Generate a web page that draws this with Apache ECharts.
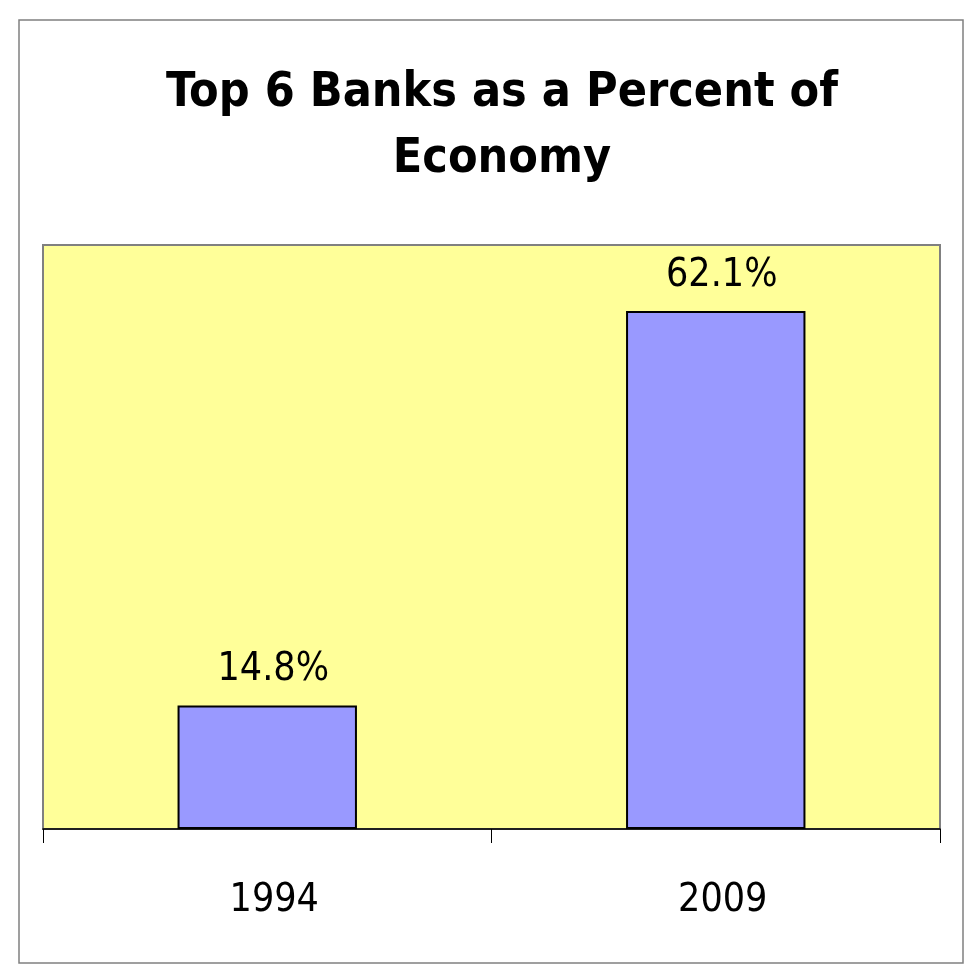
<!DOCTYPE html>
<html>
<head>
<meta charset="utf-8">
<script src="https://cdn.jsdelivr.net/npm/echarts@6/dist/echarts.min.js"></script>
<style>html,body{margin:0;padding:0;background:#fff}#c{width:980px;height:980px}</style>
</head>
<body>
<div id="c"></div>
<script>
const titleText = 'Top 6 Banks as a Percent of\nEconomy';
const categories = ['1994', '2009'];
const values = [14.8, 62.1];

const chart = echarts.init(document.getElementById('c'), null, {renderer: 'canvas'});
chart.setOption({
  backgroundColor: '#ffffff',
  animation: false,
  title: {
    text: titleText,
    left: 497,
    textAlign: 'center',
    top: 56,
    textStyle: {
      fontFamily: 'DejaVu Sans Condensed',
      fontWeight: 'bold',
      fontSize: 48,
      lineHeight: 66,
      color: '#000'
    }
  },
  graphic: [{
    type: 'rect',
    shape: {x: 19, y: 20, width: 944, height: 943},
    style: {fill: 'none', stroke: '#808080', lineWidth: 1.5},
    silent: true
  }],
  grid: {
    left: 43, right: 40, top: 245, bottom: 151,
    show: true,
    backgroundColor: '#FFFF99',
    borderColor: '#808080',
    borderWidth: 2
  },
  xAxis: {
    type: 'category',
    data: categories,
    axisLine: {show: true, lineStyle: {color: '#000', width: 1.5}},
    axisTick: {show: true, length: 14, lineStyle: {color: '#000', width: 1}},
    axisLabel: {
      margin: 52,
      padding: [0, 0, 0, 14],
      fontFamily: 'DejaVu Sans Condensed',
      fontSize: 39,
      color: '#000'
    }
  },
  yAxis: {
    type: 'value',
    min: 0, max: 70,
    show: false,
    splitLine: {show: false}
  },
  series: [{
    type: 'bar',
    data: values,
    barWidth: '40%',
    itemStyle: {color: '#9999FF', borderColor: '#000', borderWidth: 2},
    label: {
      show: true,
      position: 'top',
      distance: 16,
      offset: [6, 0],
      formatter: p => p.value.toFixed(1) + '%',
      fontFamily: 'DejaVu Sans Condensed',
      fontSize: 39,
      color: '#000'
    }
  }]
});
</script>
</body>
</html>
